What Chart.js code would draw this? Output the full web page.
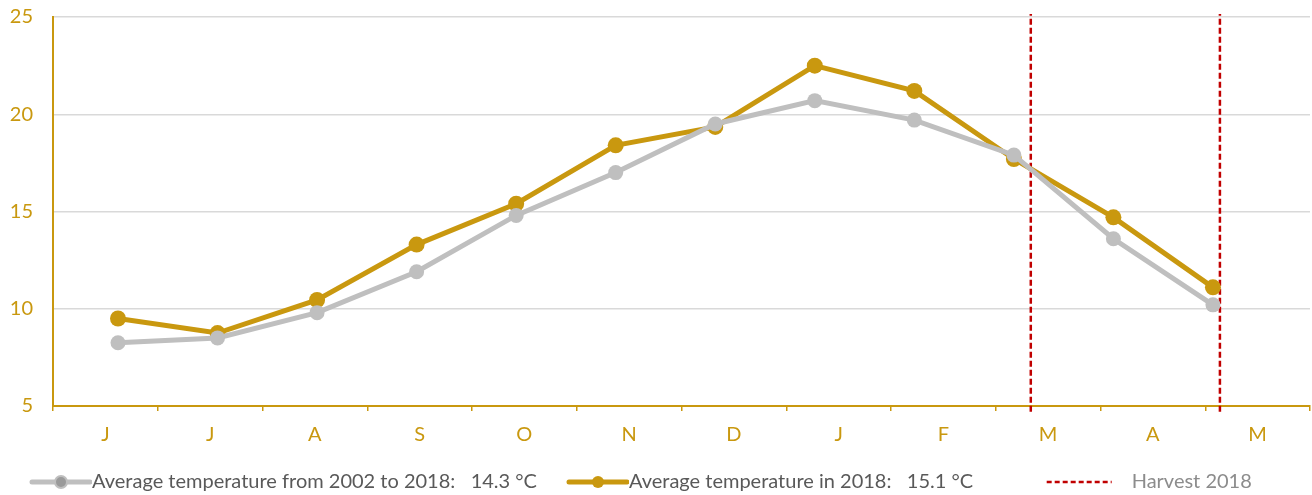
<!DOCTYPE html>
<html>
<head>
<meta charset="utf-8">
<script src="https://cdn.jsdelivr.net/npm/chart.js@4"></script>
<style>
  html, body { margin: 0; padding: 0; background: #fff; }
  #wrap { width: 1312px; height: 495px; }
</style>
</head>
<body>
<div id="wrap"><canvas id="chart" width="1312" height="495"></canvas></div>
<script>
// months from June 2017 to May 2018
const months = ["J", "J", "A", "S", "O", "N", "D", "J", "F", "M", "A", "M"];
const avg2002to2018 = [8.25, 8.5, 9.8, 11.9, 14.8, 17.0, 19.5, 20.7, 19.7, 17.9, 13.6, 10.2];
const avg2018 = [9.5, 8.75, 10.45, 13.3, 15.4, 18.4, 19.35, 22.5, 21.2, 17.7, 14.7, 11.1];
// harvest start / end, in month index units
const harvest2018 = [9.17, 11.07];
const legendLabels = [
  "Average temperature from 2002 to 2018:   14.3 °C",
  "Average temperature in 2018:   15.1 °C",
  "Harvest 2018"
];

const GOLD = '#c9980f';
const GREY = '#bfbfbf';
const RED = '#c00000';
const FONT = 'Lato';

// legend symbols: box is 72 wide, image 92 wide and centred on it,
// so the right edge of the image touches the label text
function legendIcon(kind) {
  const c = document.createElement('canvas');
  c.width = 92; c.height = 16;
  const g = c.getContext('2d');
  if (kind === 'red') {
    g.strokeStyle = RED; g.lineWidth = 2.5;
    g.setLineDash([5, 3]);
    g.beginPath(); g.moveTo(7, 8); g.lineTo(72, 8); g.stroke();
    return c;
  }
  g.strokeStyle = kind === 'grey' ? GREY : GOLD;
  g.lineWidth = 5; g.lineCap = 'round';
  g.beginPath(); g.moveTo(32, 8); g.lineTo(90, 8); g.stroke();
  g.beginPath(); g.arc(61, 8, 6, 0, Math.PI * 2);
  g.fillStyle = kind === 'grey' ? '#9a9a9a' : GOLD;
  g.fill();
  if (kind === 'grey') { g.lineWidth = 2; g.strokeStyle = GREY; g.stroke(); }
  return c;
}
const icons = [legendIcon('grey'), legendIcon('gold'), legendIcon('red')];

const toXY = arr => arr.map((v, i) => ({x: i, y: v}));
const harvestData = [];
harvest2018.forEach((h, i) => {
  if (i > 0) harvestData.push({x: h - 0.5, y: null});
  harvestData.push({x: h, y: 4.7}, {x: h, y: 25.15});
});

new Chart(document.getElementById('chart'), {
  type: 'line',
  data: {
    labels: months,
    datasets: [
      {
        label: legendLabels[0], data: toXY(avg2002to2018), xAxisID: 'xl',
        borderColor: GREY, backgroundColor: GREY, borderWidth: 5,
        pointRadius: 7.5, pointHoverRadius: 7.5, pointBorderWidth: 0, tension: 0
      },
      {
        label: legendLabels[1], data: toXY(avg2018), xAxisID: 'xl',
        borderColor: GOLD, backgroundColor: GOLD, borderWidth: 5,
        pointRadius: 8, pointHoverRadius: 8, pointBorderWidth: 0, tension: 0
      },
      {
        label: legendLabels[2], data: harvestData, xAxisID: 'xl',
        borderColor: RED, borderWidth: 2.5, borderDash: [6, 3],
        pointRadius: 0, spanGaps: false, clip: false
      }
    ]
  },
  options: {
    responsive: false,
    animation: false,
    layout: { autoPadding: false, padding: { top: 17, right: 2, left: 0, bottom: -7 } },
    scales: {
      x: {
        type: 'category', offset: true,
        grid: { display: true, drawOnChartArea: false, drawTicks: true, tickLength: 5, color: GOLD, lineWidth: 1.5, offset: true },
        border: { color: GOLD, width: 2 },
        ticks: { color: GOLD, font: { family: FONT, size: 20 }, padding: 12, maxRotation: 0 },
        afterFit: s => { s.height = 56; s.paddingLeft = 0; s.paddingRight = 0; }
      },
      xl: {
        type: 'linear', display: false, min: -0.653, max: 11.975
      },
      y: {
        min: 5, max: 25,
        ticks: { stepSize: 5, color: GOLD, font: { family: FONT, size: 20 }, padding: 20 },
        grid: { color: '#d9d9d9', lineWidth: 1.5, drawTicks: false },
        border: { color: GOLD, width: 2 },
        afterFit: s => { s.width = 53; s.paddingTop = 0; s.paddingBottom = 0; }
      }
    },
    plugins: {
      tooltip: { enabled: false },
      legend: {
        position: 'bottom',
        align: 'start',
        labels: {
          usePointStyle: true, pointStyleWidth: 72, padding: 10,
          font: { family: FONT, size: 20 },
          generateLabels: chart => legendLabels.map((t, i) => ({
            // trailing blanks widen the gap before the harvest entry
            text: i === 1 ? t + '             ' : t,
            datasetIndex: i, pointStyle: icons[i],
            fontColor: i === 2 ? '#8c8c8c' : '#595959',
            strokeStyle: 'transparent', fillStyle: 'transparent', lineWidth: 0
          }))
        }
      }
    }
  }
});
</script>
</body>
</html>
